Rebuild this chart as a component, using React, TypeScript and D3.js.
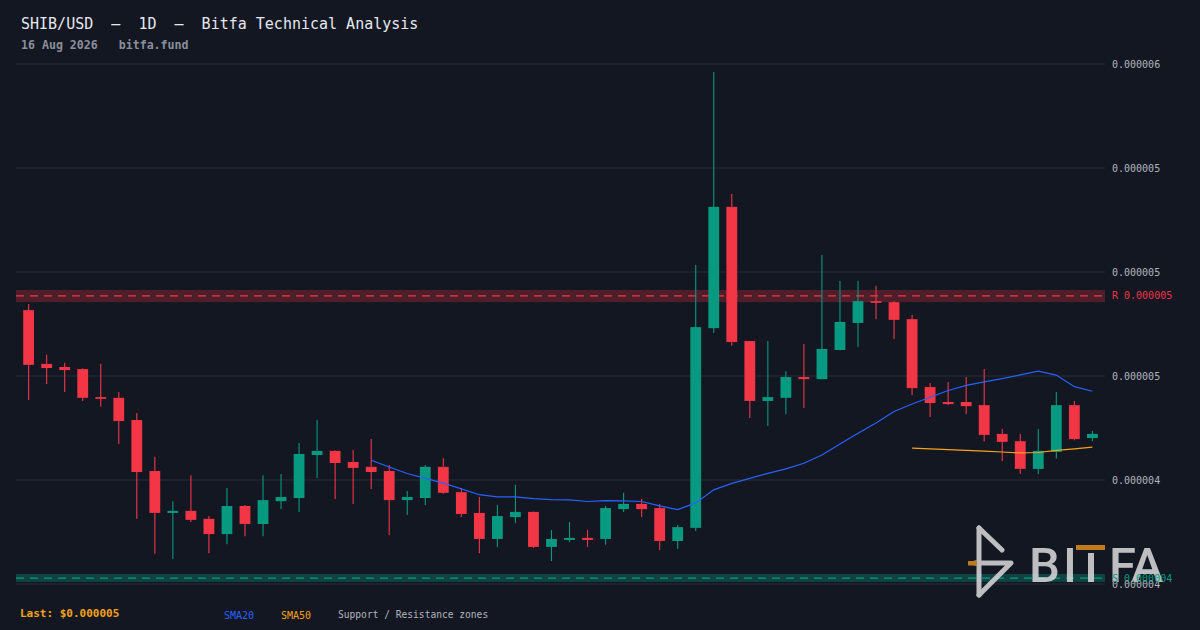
import React from 'react';
import * as d3 from 'd3';

// prices in micro-dollars (x 1e-6)
const opens = [4.890, 4.735, 4.726, 4.720, 4.639, 4.637, 4.573, 4.426, 4.305, 4.311, 4.288, 4.244, 4.325, 4.273, 4.339, 4.348, 4.472, 4.484, 4.452, 4.438, 4.426, 4.342, 4.348, 4.438, 4.365, 4.305, 4.230, 4.293, 4.308, 4.207, 4.227, 4.233, 4.230, 4.316, 4.331, 4.319, 4.224, 4.262, 4.838, 5.188, 4.801, 4.628, 4.637, 4.697, 4.691, 4.775, 4.853, 4.916, 4.913, 4.864, 4.668, 4.625, 4.625, 4.616, 4.533, 4.512, 4.432, 4.481, 4.616, 4.521];
const highs = [4.908, 4.761, 4.738, 4.722, 4.735, 4.654, 4.593, 4.466, 4.339, 4.414, 4.296, 4.377, 4.328, 4.414, 4.417, 4.507, 4.573, 4.485, 4.487, 4.518, 4.443, 4.368, 4.443, 4.463, 4.377, 4.351, 4.328, 4.386, 4.309, 4.256, 4.279, 4.256, 4.325, 4.363, 4.345, 4.331, 4.270, 5.020, 5.577, 5.225, 4.801, 4.801, 4.714, 4.792, 5.049, 4.974, 4.974, 4.960, 4.916, 4.876, 4.680, 4.683, 4.697, 4.720, 4.547, 4.533, 4.547, 4.654, 4.628, 4.541];
const lows = [4.631, 4.677, 4.654, 4.628, 4.611, 4.504, 4.288, 4.187, 4.172, 4.279, 4.189, 4.215, 4.238, 4.238, 4.316, 4.308, 4.406, 4.345, 4.331, 4.374, 4.241, 4.299, 4.328, 4.360, 4.293, 4.189, 4.207, 4.276, 4.204, 4.166, 4.221, 4.207, 4.213, 4.308, 4.293, 4.198, 4.201, 4.253, 4.824, 4.787, 4.579, 4.556, 4.590, 4.608, 4.690, 4.774, 4.784, 4.864, 4.807, 4.645, 4.582, 4.616, 4.590, 4.512, 4.455, 4.417, 4.417, 4.461, 4.515, 4.512];
const closes = [4.732, 4.723, 4.717, 4.637, 4.634, 4.570, 4.423, 4.305, 4.311, 4.285, 4.244, 4.325, 4.273, 4.342, 4.351, 4.475, 4.484, 4.449, 4.435, 4.423, 4.342, 4.351, 4.438, 4.363, 4.302, 4.230, 4.296, 4.308, 4.207, 4.230, 4.233, 4.227, 4.319, 4.331, 4.316, 4.224, 4.264, 4.841, 5.188, 4.798, 4.628, 4.639, 4.697, 4.691, 4.778, 4.856, 4.916, 4.911, 4.862, 4.665, 4.622, 4.619, 4.613, 4.530, 4.510, 4.432, 4.484, 4.616, 4.518, 4.533];

const yTicks = [5.6, 5.3, 5.0, 4.7, 4.4, 4.1];
const resistanceZone = [4.913, 4.948];
const resistanceLevel = 4.931;
const supportZone = [4.106, 4.129];
const supportLevel = 4.117;

const MICRO = 1e-6;
const fmt = (v: number) => (v * MICRO).toFixed(6);

const BG = '#131722';
const GRID = '#2a2e39';
const UP = '#089981';
const DOWN = '#f23645';
const BLUE = '#2962ff';
const ORANGE = '#f7a21b';
const MONO = '"DejaVu Sans Mono", monospace';

const left = 16;
const right = 1105;
const top = 64;
const bottom = 584;

function sma(values: number[], n: number) {
  return values.map((_, i) => (i < n - 1 ? null : d3.mean(values.slice(i - n + 1, i + 1)) as number));
}

export default function App() {
  const idx = d3.range(closes.length);
  const x = d3.scaleBand<number>().domain(idx).range([left, right]).padding(0.4);
  const y = d3.scaleLinear().domain([yTicks[yTicks.length - 1], yTicks[0]]).range([bottom, top]);
  const cx = (i: number) => (x(i) as number) + x.bandwidth() / 2;

  const line = d3.line<[number, number | null]>()
    .defined(d => d[1] != null)
    .x(d => cx(d[0]))
    .y(d => y(d[1] as number));

  const sma20 = sma(closes, 20).map((v, i) => [i, v] as [number, number | null]);
  const sma50 = sma(closes, 50).map((v, i) => [i, v] as [number, number | null]);
  const last = closes[closes.length - 1];

  return (
    <svg width={1200} height={630} style={{ position: 'absolute', left: 0, top: 0, display: 'block' }}>
      <rect width={1200} height={630} fill={BG} />

      <text x={21} y={29} fill="#e6e8ee" fontFamily={MONO} fontSize={15} style={{ whiteSpace: 'pre' }}>
        {'SHIB/USD  —  1D  —  Bitfa Technical Analysis'}
      </text>
      <text x={21} y={49} fill="#8b8f9a" fontFamily={MONO} fontSize={11.6} fontWeight="bold" style={{ whiteSpace: 'pre' }}>
        {'16 Aug 2026   bitfa.fund'}
      </text>

      {/* grid */}
      {yTicks.map(t => (
        <line key={t} x1={left} x2={right} y1={y(t)} y2={y(t)} stroke={GRID} strokeWidth={1} />
      ))}

      {/* zones */}
      <rect x={left} width={right - left} y={y(resistanceZone[1])} height={y(resistanceZone[0]) - y(resistanceZone[1])} fill={DOWN} fillOpacity={0.27} />
      <line x1={left} x2={right} y1={y(resistanceLevel)} y2={y(resistanceLevel)} stroke={DOWN} strokeWidth={1.2} strokeDasharray="8,6" />
      <rect x={left} width={right - left} y={y(supportZone[1])} height={y(supportZone[0]) - y(supportZone[1])} fill={UP} fillOpacity={0.35} />
      <line x1={left} x2={right} y1={y(supportLevel)} y2={y(supportLevel)} stroke={UP} strokeWidth={1.2} strokeDasharray="8,6" />

      {/* candles */}
      {idx.map(i => {
        const o = opens[i], c = closes[i];
        const col = c >= o ? UP : DOWN;
        const yTop = y(Math.max(o, c));
        const h = Math.max(1.5, y(Math.min(o, c)) - yTop);
        return (
          <g key={i}>
            <line x1={cx(i)} x2={cx(i)} y1={y(highs[i])} y2={y(lows[i])} stroke={col} strokeWidth={1.1} />
            <rect x={x(i)} width={x.bandwidth()} y={yTop} height={h} fill={col} />
          </g>
        );
      })}

      {/* moving averages */}
      <path d={line(sma20) || ''} fill="none" stroke={BLUE} strokeWidth={1.2} />
      <path d={line(sma50) || ''} fill="none" stroke={ORANGE} strokeWidth={1.2} />

      {/* watermark */}
      <g opacity={0.88}>
        <g stroke="#d6d6d8" strokeWidth={5} strokeLinecap="round" strokeLinejoin="round" fill="none">
          <path d="M979,528 L979,595" />
          <path d="M979,528 L1002,550" />
          <path d="M975,563 L1011,563 L979,595" />
        </g>
        <rect x={968} y={561} width={9} height={4.5} fill="#d88a1c" />
        <g fill="#d6d6d8" fontFamily="Roboto, sans-serif" fontSize={49} fontWeight={500}>
          <text x={1029} y={582}>B</text>
          <text x={1063} y={582}>I</text>
          <text x={1109} y={582}>F</text>
          <text x={1131} y={582}>A</text>
        </g>
        <rect x={1088} y={553} width={6} height={29} fill="#d6d6d8" />
        <rect x={1076} y={545} width={29} height={5} fill="#d88a1c" />
      </g>

      {/* axis labels */}
      {yTicks.map(t => (
        <text key={t} x={1112} y={y(t)} dy="0.35em" fill="#b2b5be" fontFamily={MONO} fontSize={10}>
          {fmt(t)}
        </text>
      ))}
      <text x={1112} y={y(resistanceLevel)} dy="0.35em" fill={DOWN} fontFamily={MONO} fontSize={10}>
        {`R ${fmt(resistanceLevel)}`}
      </text>
      <text x={1112} y={y(supportLevel)} dy="0.35em" fill={UP} fontFamily={MONO} fontSize={10}>
        {`S ${fmt(supportLevel)}`}
      </text>

      {/* footer */}
      <text x={20} y={613} dy="0.35em" fill={ORANGE} fontFamily={MONO} fontSize={11} fontWeight="bold">
        {`Last: $${fmt(last)}`}
      </text>
      <text x={224} y={615} dy="0.35em" fill={BLUE} fontFamily={MONO} fontSize={10}>SMA20</text>
      <text x={281} y={615} dy="0.35em" fill={ORANGE} fontFamily={MONO} fontSize={10}>SMA50</text>
      <text x={338} y={615} dy="0.35em" fill="#b2b5be" fontFamily={MONO} fontSize={9.6}>Support / Resistance zones</text>
    </svg>
  );
}
